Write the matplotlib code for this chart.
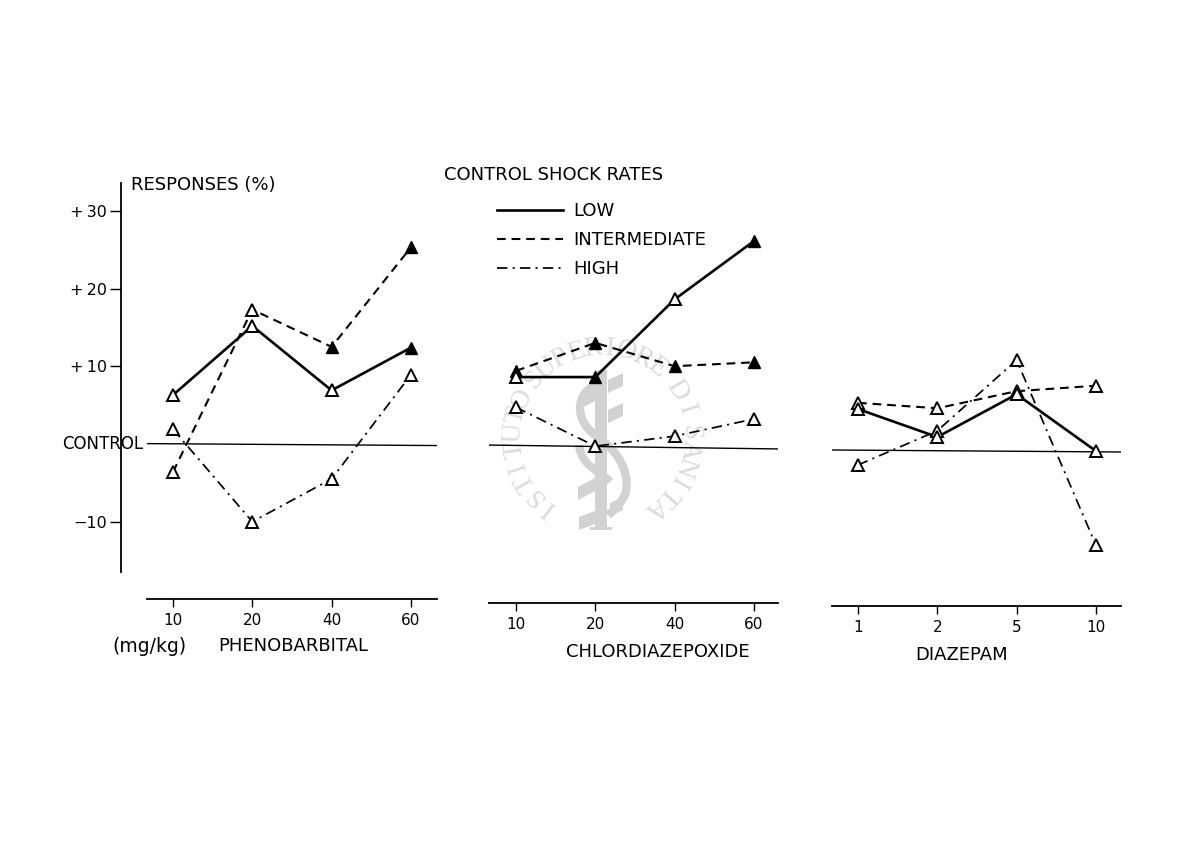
import numpy as np
import matplotlib
matplotlib.use('Agg')
import matplotlib.pyplot as plt
from matplotlib.lines import Line2D
from matplotlib.patches import Polygon, Rectangle, PathPatch
from matplotlib.path import Path

# values (% change from control)
doses_pheno = ['10', '20', '40', '60']
low_pheno = [6.3, 15.2, 6.9, 12.4]
mid_pheno = [-3.6, 17.3, 12.5, 25.3]
high_pheno = [1.9, -10.0, -4.5, 8.9]
low_pheno_filled = [False, False, False, True]
mid_pheno_filled = [False, False, True, True]
high_pheno_filled = [False, False, False, False]

doses_chlor = ['10', '20', '40', '60']
low_chlor = [9.0, 9.0, 19.0, 26.5]
mid_chlor = [9.8, 13.4, 10.4, 10.9]
high_chlor = [5.1, 0.1, 1.4, 3.6]
low_chlor_filled = [False, True, False, True]
mid_chlor_filled = [True, True, True, True]
high_chlor_filled = [False, False, False, False]

doses_diaz = ['1', '2', '5', '10']
low_diaz = [5.4, 1.8, 7.3, 0.0]
mid_diaz = [6.2, 5.5, 7.7, 8.4]
high_diaz = [-1.8, 2.6, 11.7, -12.1]
low_diaz_filled = [False, False, False, False]
mid_diaz_filled = [False, False, False, False]
high_diaz_filled = [False, False, False, False]

y_ticks = [-10, 10, 20, 30]
y_tick_labels = ['\u221210', '+\u200910', '+\u200920', '+\u200930']

W, H = 1200, 867
PX_PER_UNIT = 7.77
plt.rcParams['font.family'] = ['DejaVu Sans']

fig = plt.figure(figsize=(W / 100, H / 100), dpi=100, facecolor='white')


def axes_px(left, top, right, bottom):
    a = fig.add_axes([left / W, 1 - bottom / H, (right - left) / W, (bottom - top) / H])
    a.patch.set_visible(False)
    return a


# watermark underneath everything
wm = axes_px(0, 0, W, H)
wm.set_xlim(0, W)
wm.set_ylim(H, 0)
wm.axis('off')
grey = '#d2d2d2'
cx, cy, r = 602, 437, 82


def arc_text(txt, start, step):
    for i, ch in enumerate(txt):
        ang = np.radians(start + i * step)
        wm.text(cx + r * np.sin(ang), cy - r * np.cos(ang), ch, rotation=-np.degrees(ang),
                rotation_mode='anchor', ha='center', va='baseline', color='#dcdcdc',
                fontsize=20, family='Liberation Serif')


arc_text('ISTITUTO', -143, 11.2)
arc_text('SUPERIORE', -50, 11)
arc_text('DI', 58, 14)
arc_text('SANITA', 87, 11.2)
wm.add_patch(Rectangle((595, 370), 12, 158, color=grey, lw=0))
wm.add_patch(Rectangle((590, 527), 22, 3, color=grey, lw=0))
for x0, x1, y0, y1 in [(578, 595, 397, 388), (578, 595, 487, 478), (579, 595, 517, 511),
                       (608, 623, 380, 373), (608, 623, 410, 403), (610, 623, 503, 497)]:
    wm.add_patch(Polygon([(x0, y0), (x1, y1), (x1, y1 + 13), (x0, y0 + 13)], color=grey, lw=0))
snake = Path([(595, 385), (575, 395), (575, 420), (595, 435), (625, 455), (630, 480), (625, 495),
              (620, 505), (612, 512), (608, 515)],
             [Path.MOVETO] + [Path.CURVE4] * 9)
wm.add_patch(PathPatch(snake, fc='none', ec=grey, lw=6))
snake2 = Path([(579, 445), (582, 468), (600, 470), (610, 482)], [Path.MOVETO] + [Path.CURVE4] * 3)
wm.add_patch(PathPatch(snake2, fc='none', ec=grey, lw=6))


def draw_series(ax, vals, filled, style, lw):
    xs = np.arange(len(vals))
    vals = np.array(vals)
    filled = np.array(filled)
    ax.plot(xs, vals, color='black', lw=lw, zorder=2, clip_on=False, **style)
    ax.plot(xs[~filled], vals[~filled], ls='none', marker='^', ms=8, mfc='white', mec='black',
            mew=1.4, zorder=3, clip_on=False)
    ax.plot(xs[filled], vals[filled], ls='none', marker='^', ms=8, mfc='black', mec='black',
            zorder=3, clip_on=False)


solid = dict(ls='-')
dashed = dict(ls=(0, (4.2, 2.8)))
dashdot = dict(ls=(0, (6, 3, 1.2, 3)))


def panel(left, right, first_x, step, ctrl_px, axis_px, ctrl_tilt, labels, low, mid, high,
          low_f, mid_f, high_f, name, name_x, name_y):
    top = 170
    ax = axes_px(left, top, right, axis_px)
    ax.set_xlim((left - first_x) / step, (right - first_x) / step)
    ax.set_ylim((ctrl_px - axis_px) / PX_PER_UNIT, (ctrl_px - top) / PX_PER_UNIT)
    for s in ['top', 'left', 'right']:
        ax.spines[s].set_visible(False)
    ax.spines['bottom'].set_linewidth(1.3)
    ax.set_yticks([])
    ax.set_xticks(range(len(labels)))
    ax.set_xticklabels(labels, fontsize=11)
    ax.tick_params(axis='x', length=5.5, width=1, pad=4.5)
    ax.plot(ax.get_xlim(), ctrl_tilt, color='black', lw=1.0, zorder=1)
    draw_series(ax, high, high_f, dashdot, 1.25)
    draw_series(ax, mid, mid_f, dashed, 1.5)
    draw_series(ax, low, low_f, solid, 1.9)
    ax.set_xlabel(name, fontsize=13)
    ax.xaxis.set_label_coords((name_x - left) / (right - left), 1 - (name_y - top) / (axis_px - top))
    ax.xaxis.label.set_va('center')
    return ax


panel(147, 437, 173, 79.3, 444, 599, (0.05, -0.2), doses_pheno, low_pheno, mid_pheno, high_pheno,
      low_pheno_filled, mid_pheno_filled, high_pheno_filled, 'PHENOBARBITAL', 293, 646)
panel(489, 778, 516, 79.3, 447, 603, (0.25, -0.25), doses_chlor, low_chlor, mid_chlor, high_chlor,
      low_chlor_filled, mid_chlor_filled, high_chlor_filled, 'CHLORDIAZEPOXIDE', 658, 652)
panel(832, 1121, 858, 79.3, 451, 606, (0.13, -0.13), doses_diaz, low_diaz, mid_diaz, high_diaz,
      low_diaz_filled, mid_diaz_filled, high_diaz_filled, 'DIAZEPAM', 962, 655)

# y axis of the first panel stands apart from the panel itself
ax_y = axes_px(121, 183, 125, 572)
ax_y.set_ylim((444 - 572) / PX_PER_UNIT, (444 - 183) / PX_PER_UNIT)
for s in ['top', 'bottom', 'right']:
    ax_y.spines[s].set_visible(False)
ax_y.spines['left'].set_linewidth(1.3)
ax_y.set_xticks([])
ax_y.set_yticks(y_ticks)
ax_y.set_yticklabels(y_tick_labels, fontsize=11.5)
ax_y.tick_params(axis='y', length=8, width=1, pad=2)

fig.text(131 / W, 1 - 185 / H, 'RESPONSES (%)', fontsize=13, va='center', ha='left')
fig.text(62 / W, 1 - 444 / H, 'CONTROL', fontsize=12, va='center', ha='left')
fig.text(149 / W, 1 - 647 / H, '(mg/kg)', fontsize=13.5, va='center', ha='center')
fig.text(554 / W, 1 - 175 / H, 'CONTROL SHOCK RATES', fontsize=13, va='center', ha='center')

handles = [Line2D([], [], color='black', lw=1.9, **solid),
           Line2D([], [], color='black', lw=1.5, **dashed),
           Line2D([], [], color='black', lw=1.25, **dashdot)]
fig.legend(handles, ['LOW', 'INTERMEDIATE', 'HIGH'], frameon=False, fontsize=13,
           loc='upper left', bbox_to_anchor=(497 / W, 1 - 202 / H), borderpad=0, borderaxespad=0,
           handlelength=3.65, handletextpad=0.55, labelspacing=0.62)

fig.savefig('out.png', dpi=100, facecolor='white')
